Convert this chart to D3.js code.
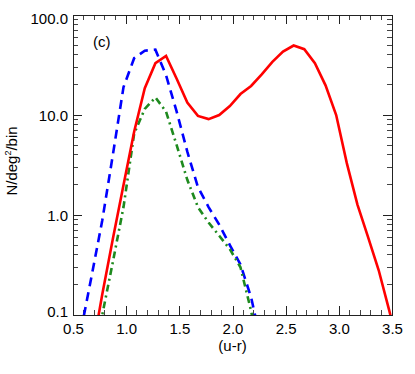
<!DOCTYPE html>
<html>
<head>
<meta charset="utf-8">
<script src="https://cdn.jsdelivr.net/npm/d3@7"></script>
<style>
    body { margin: 0; background: #fff; }
    text { font-family: "Liberation Sans", Arial, Helvetica, sans-serif; fill: #000; }
</style>
</head>
<body>
<svg id="chart" width="415" height="374"></svg>
<script>
// bin centres in (u-r)
var uR = [0.575, 0.675, 0.775, 0.875, 0.975, 1.075, 1.175, 1.275, 1.375, 1.475, 1.575,
    1.675, 1.775, 1.875, 1.975, 2.075, 2.175, 2.275, 2.375, 2.475, 2.575, 2.675,
    2.775, 2.875, 2.975, 3.075, 3.175, 3.275, 3.375, 3.475, 3.575];

// N/deg^2/bin per series (null = no bin)
var redCounts = [0.01, 0.04, 0.16, 0.58, 2.0, 6.8, 18.5, 33, 39, 23, 13.3,
    9.8, 9.1, 10.0, 12.3, 16.2, 19.5, 25.5, 34, 43, 49.5, 45.5,
    33, 19.8, 10.0, 3.3, 1.27, 0.6, 0.28, 0.11, 0.04];
var blueCounts = [0.07, 0.245, 0.88, 4.0, 19, 37, 44, 45, 25, 10.8, 4.3,
    1.9, 1.2, 0.8, 0.5, 0.32, 0.15, 0.05, null, null, null, null,
    null, null, null, null, null, null, null, null, null];
var greenCounts = [null, 0.025, 0.1, 0.34, 1.2, 6.5, 11.5, 15, 10.8, 5.0, 2.25,
    1.2, 0.84, 0.62, 0.455, 0.3, 0.11, 0.03, null, null, null, null,
    null, null, null, null, null, null, null, null, null];

var xTicks = [0.5, 1.0, 1.5, 2.0, 2.5, 3.0, 3.5];
var yTicks = [0.1, 1, 10, 100];

var margin = { left: 73, right: 23, top: 15, bottom: 59 },
    width = 415 - margin.left - margin.right,
    height = 374 - margin.top - margin.bottom;

var svg = d3.select("#chart");
var g = svg.append("g").attr("transform", "translate(" + margin.left + "," + margin.top + ")");

var x = d3.scaleLinear().domain([0.5, 3.5]).range([0, width]);
var y = d3.scaleLog().domain([0.1, 100]).range([height, 0]);

// minor ticks: 0.1 steps on x, 2..9 per decade on y
var xMinor = d3.range(5, 36).map(function (d) { return d / 10; })
    .filter(function (d) { return xTicks.indexOf(d) < 0; });
var yMinor = [];
[0.1, 1, 10].forEach(function (dec) {
    d3.range(2, 10).forEach(function (m) { yMinor.push(dec * m); });
});

function styleLabels(sel) {
    sel.attr("font-size", null).attr("font-family", null);
    sel.selectAll(".tick text").style("font-size", "15px");
}

// bottom axis
var axBottom = g.append("g").attr("transform", "translate(0," + height + ")")
    .call(d3.axisBottom(x).tickValues(xTicks).tickSize(-9).tickSizeOuter(0).tickFormat(d3.format(".1f")));
styleLabels(axBottom);
axBottom.selectAll(".tick text").attr("y", 8.5).attr("dy", "0.71em");
axBottom.selectAll(".minor").data(xMinor).enter().append("line")
    .attr("class", "minor")
    .attr("x1", function (d) { return x(d); })
    .attr("x2", function (d) { return x(d); })
    .attr("y1", 0).attr("y2", -5);

// top axis (no labels)
var axTop = g.append("g")
    .call(d3.axisTop(x).tickValues(xTicks).tickSize(-9).tickSizeOuter(0).tickFormat(""));
axTop.selectAll(".minor").data(xMinor).enter().append("line")
    .attr("class", "minor")
    .attr("x1", function (d) { return x(d); })
    .attr("x2", function (d) { return x(d); })
    .attr("y1", 0).attr("y2", 5);

// left axis
var axLeft = g.append("g")
    .call(d3.axisLeft(y).tickValues(yTicks).tickSize(-9).tickSizeOuter(0).tickFormat(d3.format(".1f")));
styleLabels(axLeft);
axLeft.selectAll(".tick text").attr("x", -5)
    .attr("dy", function (d) { return d === 100 ? "0.55em" : (d === 0.1 ? "0.12em" : "0.34em"); });
axLeft.selectAll(".minor").data(yMinor).enter().append("line")
    .attr("class", "minor")
    .attr("y1", function (d) { return y(d); })
    .attr("y2", function (d) { return y(d); })
    .attr("x1", 0).attr("x2", 5);

// right axis (no labels)
var axRight = g.append("g").attr("transform", "translate(" + width + ",0)")
    .call(d3.axisRight(y).tickValues(yTicks).tickSize(-9).tickSizeOuter(0).tickFormat(""));
axRight.selectAll(".minor").data(yMinor).enter().append("line")
    .attr("class", "minor")
    .attr("y1", function (d) { return y(d); })
    .attr("y2", function (d) { return y(d); })
    .attr("x1", 0).attr("x2", -5);

g.selectAll(".domain").remove();
g.selectAll(".tick line").attr("stroke", "#222");
g.selectAll(".minor").attr("stroke", "#444");
g.selectAll("line").attr("shape-rendering", "crispEdges");

// frame
g.append("rect")
    .attr("x", 0).attr("y", 0)
    .attr("width", width).attr("height", height)
    .attr("fill", "none").attr("stroke", "#222").attr("shape-rendering", "crispEdges");

// curves, clipped to the plot box
svg.append("defs").append("clipPath").attr("id", "plotClip")
    .append("rect").attr("width", width).attr("height", height);

var line = d3.line()
    .defined(function (d) { return d[1] !== null; })
    .x(function (d) { return x(d[0]); })
    .y(function (d) { return y(d[1]); });

var series = [
    { values: blueCounts, color: "#0000ff", dash: "9,6" },
    { values: greenCounts, color: "#1e8a1e", dash: "7,4,2,4" },
    { values: redCounts, color: "#ff0000", dash: null }
];

g.append("g").attr("clip-path", "url(#plotClip)")
    .selectAll("path").data(series).enter().append("path")
    .attr("d", function (s) { return line(uR.map(function (u, i) { return [u, s.values[i]]; })); })
    .attr("fill", "none")
    .attr("stroke", function (s) { return s.color; })
    .attr("stroke-width", 2.6)
    .attr("stroke-dasharray", function (s) { return s.dash; });

// panel tag
g.append("text").attr("x", 20).attr("y", 32).style("font-size", "15px").text("(c)");

// axis titles
svg.append("text")
    .attr("x", margin.left + x(2.0)).attr("y", 351)
    .attr("text-anchor", "middle").style("font-size", "15px")
    .text("(u-r)");

var yt = svg.append("text")
    .attr("transform", "translate(17,161) rotate(-90)")
    .attr("text-anchor", "middle").style("font-size", "15px");
yt.append("tspan").text("N/deg");
yt.append("tspan").style("font-size", "9px").attr("dy", -6).text("2");
yt.append("tspan").attr("dy", 6).text("/bin");
</script>
</body>
</html>
